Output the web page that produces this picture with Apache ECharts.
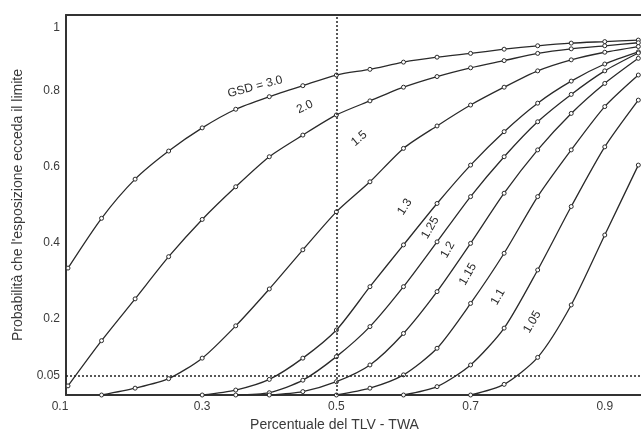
<!DOCTYPE html>
<html>
<head>
<meta charset="utf-8">
<script src="https://cdn.jsdelivr.net/npm/echarts@6/dist/echarts.min.js"></script>
<style>
html,body{margin:0;padding:0;background:#fff;}
#chart{width:641px;height:437px;}
</style>
</head>
<body>
<div id="chart"></div>
<script>
// x positions of the plotted points (fraction of TLV-TWA)
const xValues = [0.10,0.15,0.20,0.25,0.30,0.35,0.40,0.45,0.50,0.55,0.60,0.65,0.70,0.75,0.80,0.85,0.90,0.95];

// probability values (null = curve not yet drawn)
const gsd30  = [0.334,0.465,0.568,0.642,0.703,0.752,0.785,0.814,0.842,0.857,0.876,0.889,0.899,0.910,0.919,0.926,0.930,0.934];
const gsd20  = [0.024,0.143,0.253,0.364,0.462,0.548,0.627,0.684,0.737,0.774,0.810,0.838,0.861,0.880,0.899,0.911,0.919,0.927];
const gsd15  = [null,0.000,0.018,0.043,0.097,0.182,0.279,0.382,0.482,0.561,0.649,0.708,0.763,0.810,0.853,0.882,0.902,0.917];
const gsd13  = [null,null,null,null,0.000,0.013,0.041,0.097,0.171,0.285,0.395,0.504,0.605,0.693,0.768,0.826,0.871,0.903];
const gsd125 = [null,null,null,null,null,0.000,0.006,0.039,0.101,0.180,0.285,0.403,0.522,0.627,0.719,0.791,0.853,0.900];
const gsd12  = [null,null,null,null,null,null,0.000,0.009,0.035,0.079,0.162,0.272,0.399,0.531,0.645,0.741,0.820,0.886];
const gsd115 = [null,null,null,null,null,null,null,null,0.000,0.018,0.053,0.123,0.241,0.373,0.522,0.645,0.759,0.842];
const gsd11  = [null,null,null,null,null,null,null,null,null,null,0.000,0.022,0.079,0.176,0.329,0.496,0.653,0.776];
const gsd105 = [null,null,null,null,null,null,null,null,null,null,null,null,0.000,0.028,0.099,0.237,0.421,0.605];

const seriesNames = ['3.0','2.0','1.5','1.3','1.25','1.2','1.15','1.1','1.05'];
const seriesValues = [gsd30,gsd20,gsd15,gsd13,gsd125,gsd12,gsd115,gsd11,gsd105];

// curve labels: text, anchor (x, probability), rotation in degrees
const labelTexts = ['GSD = 3.0','2.0','1.5','1.3','1.25','1.2','1.15','1.1','1.05'];
const labelX     = [0.379,0.453,0.534,0.602,0.640,0.666,0.696,0.741,0.792];
const labelY     = [0.811,0.758,0.675,0.495,0.440,0.382,0.318,0.258,0.192];
const labelRot   = [15,25,40,57,60,60,60,60,60];

// tick labels
const xTicks = [0.1,0.3,0.5,0.7,0.9];
const yTicks = [0.05,0.2,0.4,0.6,0.8,1];

const refLevel = 0.05;
const refX = 0.5;

const FONT = '"Liberation Sans", Arial, Helvetica, sans-serif';
const TXT = '#3a3a3a';

const chart = echarts.init(document.getElementById('chart'), null, {renderer:'canvas'});

const series = seriesValues.map((vals, si) => {
  const data = [];
  vals.forEach((v, i) => { if (v !== null) data.push([xValues[i], v]); });
  const s = {
    name: seriesNames[si],
    type: 'line',
    data: data,
    smooth: 0.25,
    symbol: 'circle',
    symbolSize: 4,
    showSymbol: true,
    itemStyle: {color: '#fff', borderColor: '#2a2a2a', borderWidth: 1},
    lineStyle: {color: '#2a2a2a', width: 1.3},
    emphasis: {disabled: true},
    silent: true,
    z: 3
  };
  if (si === 0) {
    s.markLine = {
      silent: true,
      symbol: ['none','none'],
      label: {show: false},
      lineStyle: {type: [2,2], color: '#222', width: 1.5},
      data: [{yAxis: refLevel}, {xAxis: refX}]
    };
  }
  return s;
});

const option = {
  animation: false,
  backgroundColor: '#fff',
  grid: {left: 66, right: 0, top: 15, bottom: 42},
  xAxis: [{
    type: 'value',
    min: 0.097,
    max: 0.954,
    name: 'Percentuale del TLV - TWA',
    nameLocation: 'middle',
    nameGap: 22,
    nameTextStyle: {fontFamily: FONT, fontSize: 14, color: TXT, padding: [0, 38, 0, 0], verticalAlign: 'top'},
    axisLine: {show: true, onZero: false, lineStyle: {color: '#333', width: 2}},
    axisTick: {show: false},
    splitLine: {show: false},
    axisLabel: {
      customValues: xTicks,
      margin: 6,
      fontFamily: FONT, fontSize: 12, color: TXT,
      formatter: function (v) { return Math.abs(v - 0.1) < 1e-9 ? '{first|0.1}' : String(v); },
      rich: {first: {fontFamily: FONT, fontSize: 12, color: TXT, padding: [0, 16, 0, 0]}}
    }
  }, {
    type: 'value',
    position: 'top',
    min: 0.097,
    max: 0.954,
    axisLine: {show: true, onZero: false, lineStyle: {color: '#333', width: 2}},
    axisTick: {show: false},
    axisLabel: {show: false},
    splitLine: {show: false}
  }],
  yAxis: {
    type: 'value',
    min: 0,
    max: 1,
    name: "Probabilità che l'esposizione ecceda il limite",
    nameLocation: 'middle',
    nameGap: 41,
    nameTextStyle: {fontFamily: FONT, fontSize: 14, color: TXT},
    axisLine: {show: true, lineStyle: {color: '#333', width: 2}},
    axisTick: {show: false},
    splitLine: {show: false},
    axisLabel: {
      customValues: yTicks,
      margin: 6,
      fontFamily: FONT, fontSize: 12, color: TXT,
      formatter: function (v) { return v >= 0.999 ? '{one|1}' : String(v); },
      rich: {one: {fontFamily: FONT, fontSize: 12, color: TXT, padding: [26, 0, 0, 0]}}
    }
  },
  series: series
};

chart.setOption(option);

const graphics = labelTexts.map((t, i) => {
  const p = chart.convertToPixel({gridIndex: 0}, [labelX[i], labelY[i]]);
  return {
    type: 'text',
    x: p[0], y: p[1],
    rotation: labelRot[i] * Math.PI / 180,
    style: {text: t, fontFamily: FONT, fontSize: 12, fill: '#2a2a2a', align: 'center', verticalAlign: 'middle'},
    silent: true,
    z: 10
  };
});
chart.setOption({graphic: graphics});
</script>
</body>
</html>
